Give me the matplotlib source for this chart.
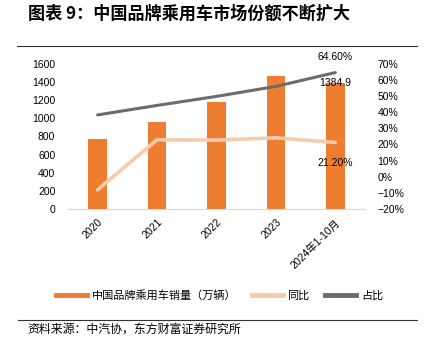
import matplotlib
matplotlib.use("Agg")
import matplotlib.pyplot as plt
from matplotlib.lines import Line2D
from matplotlib.ticker import FuncFormatter

plt.rcParams["font.family"] = ["Liberation Sans", "Noto Sans CJK SC", "DejaVu Sans"]
plt.rcParams["axes.unicode_minus"] = True

# data
years = ["2020", "2021", "2022", "2023", "2024年1-10月"]
sales = [775, 956, 1178, 1462, 1384.9]          # 万辆
yoy = [-8.2, 22.9, 22.7, 24.1, 21.2]            # %
share = [38.3, 44.2, 49.8, 56.0, 64.6]          # %

ORANGE = "#ED7D31"
PEACH = "#F8CBAD"
GREY = "#6F6B6B"

fig = plt.figure(figsize=(4.24, 3.47), dpi=100)
ax = fig.add_axes([0.160, 0.398, 0.701, 0.418])
ax2 = ax.twinx()

x = list(range(len(years)))
ax.bar(x, sales, width=0.31, color=ORANGE, zorder=2)
ax2.plot(x, yoy, color=PEACH, lw=2.6, solid_capstyle="round", zorder=3)
ax2.plot(x, share, color=GREY, lw=2.2, solid_capstyle="round", zorder=3)

ax.set_xlim(-0.5, 4.5)
ax.set_ylim(0, 1600)
ax.set_yticks(range(0, 1601, 200))
ax2.set_ylim(-20, 70)
ax2.set_yticks(range(-20, 71, 10))
ax2.yaxis.set_major_formatter(FuncFormatter(lambda v, p: f"{v:.0f}%".replace("-", "\u2212")))

ax.set_xticks(x)
ax.set_xticklabels(years, rotation=45, ha="right", rotation_mode="anchor", fontsize=7.5)
ax.tick_params(axis="x", length=0, pad=6)
ax.tick_params(axis="y", length=0, labelsize=7.5, pad=9)
ax2.tick_params(axis="y", length=0, labelsize=7.5, pad=9)

for a in (ax, ax2):
    for s in ("top", "left", "right"):
        a.spines[s].set_visible(False)
ax.spines["bottom"].set_color("#d9d9d9")
ax2.spines["bottom"].set_visible(False)

# value labels on the last category
ax2.annotate(f"{share[-1]:.2f}%", (x[-1], share[-1]), xytext=(0, 11), textcoords="offset points",
             ha="center", va="center", fontsize=7.5)
ax.annotate(f"{sales[-1]}", (x[-1], sales[-1]), xytext=(0, 0), textcoords="offset points",
            ha="center", va="center", fontsize=7.5)
ax2.annotate(f"{yoy[-1]:.2f}%", (x[-1], yoy[-1]), xytext=(0, -15), textcoords="offset points",
             ha="center", va="center", fontsize=7.5)

# legend
handles = [Line2D([], [], color=ORANGE, lw=3.5),
           Line2D([], [], color=PEACH, lw=3.5),
           Line2D([], [], color=GREY, lw=3.5)]
labels = ["中国品牌乘用车销量（万辆）", "同比", "占比"]
fig.legend(handles, labels, loc="center", bbox_to_anchor=(0.518, 1 - 295 / 347), ncol=3,
           frameon=False, handlelength=2.8, handletextpad=0.4, columnspacing=1.4,
           prop={"family": ["Noto Sans CJK SC"], "size": 8})

# title, rules and source
fig.text(28 / 424, 1 - 14 / 347, "图表 9：中国品牌乘用车市场份额不断扩大", fontsize=12.3,
         fontweight="bold", family=["Noto Sans CJK SC"], va="center", ha="left")
fig.add_artist(Line2D([17 / 424, 417 / 424], [1 - 45.5 / 347] * 2, color="#333333", lw=0.8))
fig.add_artist(Line2D([18 / 424, 417 / 424], [1 - 320 / 347] * 2, color="#333333", lw=0.8))
fig.text(27 / 424, 1 - 329.5 / 347, "资料来源：中汽协，东方财富证券研究所", fontsize=8.6,
         family=["Noto Sans CJK SC"], va="center", ha="left")

fig.savefig("out.png", dpi=100)
